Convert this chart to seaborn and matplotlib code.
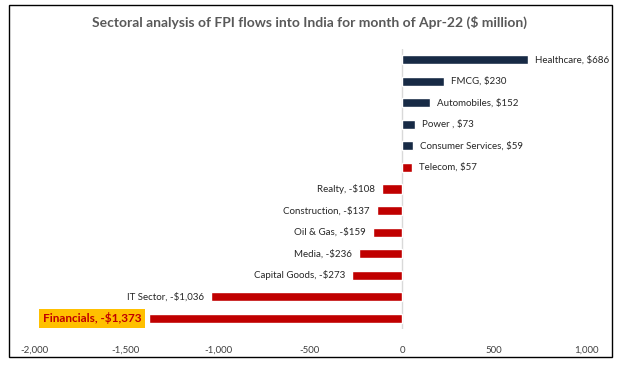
import matplotlib
matplotlib.use("Agg")
import matplotlib.pyplot as plt
import seaborn as sns
from matplotlib.patches import Rectangle

# Data ($ million)
sectors = ['Healthcare', 'FMCG', 'Automobiles', 'Power ', 'Consumer Services', 'Telecom',
           'Realty', 'Construction', 'Oil & Gas', 'Media', 'Capital Goods', 'IT Sector', 'Financials']
flows = [686, 230, 152, 73, 59, 57, -108, -137, -159, -236, -273, -1036, -1373]
bar_colors = ['#172A45', '#172A45', '#172A45', '#172A45', '#172A45', '#C00000',
              '#C00000', '#C00000', '#C00000', '#C00000', '#C00000', '#C00000', '#C00000']
xticks = [-2000, -1500, -1000, -500, 0, 500, 1000]

sns.set_style('white')
plt.rcParams['font.family'] = ['Lato', 'DejaVu Sans']

fig = plt.figure(figsize=(6.19, 3.67), dpi=100)
ax = fig.add_axes([34 / 619, 1 - 329 / 367, 552 / 619, 280 / 367])

sns.barplot(x=flows, y=sectors, hue=sectors, palette=bar_colors, legend=False,
            orient='h', width=0.42, saturation=1, ax=ax)

ax.set_xlim(-2000, 1000)
ax.set_ylim(len(sectors) - 0.5, -0.5)
ax.axvline(0, color='#D9D9D9', lw=1, zorder=0)
ax.set_xticks(xticks)
ax.set_xticklabels([f'{t:,}' for t in xticks], fontsize=7, color='#404040')
ax.tick_params(axis='x', length=0, pad=12)
ax.set_yticks([])
ax.set_xlabel('')
ax.set_ylabel('')
for s in ax.spines.values():
    s.set_visible(False)

# data labels
for i, (name, v) in enumerate(zip(sectors, flows)):
    txt = f'{name}, ${v:,}' if v >= 0 else f'{name}, -${-v:,}'
    if name == 'Financials':
        ax.annotate(txt, (v, i), xytext=(-6, 0), textcoords='offset points',
                    ha='right', va='center', fontsize=8.5, fontweight='bold', color='#C00000',
                    bbox=dict(boxstyle='square,pad=0.3', fc='#FFC000', ec='none'))
    elif v >= 0:
        ax.annotate(txt, (v, i), xytext=(5, 0), textcoords='offset points',
                    ha='left', va='center', fontsize=7, color='#262626')
    else:
        ax.annotate(txt, (v, i), xytext=(-5, 0), textcoords='offset points',
                    ha='right', va='center', fontsize=7, color='#262626')

fig.text(0.5, 1 - 22 / 367, 'Sectoral analysis of FPI flows into India for month of Apr-22 ($ million)',
         ha='center', va='center', fontsize=10, fontweight='bold', color='#595959')

# outer chart border
fig.patches.append(Rectangle((9 / 619, 1 - 357 / 367), 603 / 619, 352 / 367,
                             transform=fig.transFigure, fill=False, ec='#000000', lw=1))

fig.savefig('out.png', dpi=100)
